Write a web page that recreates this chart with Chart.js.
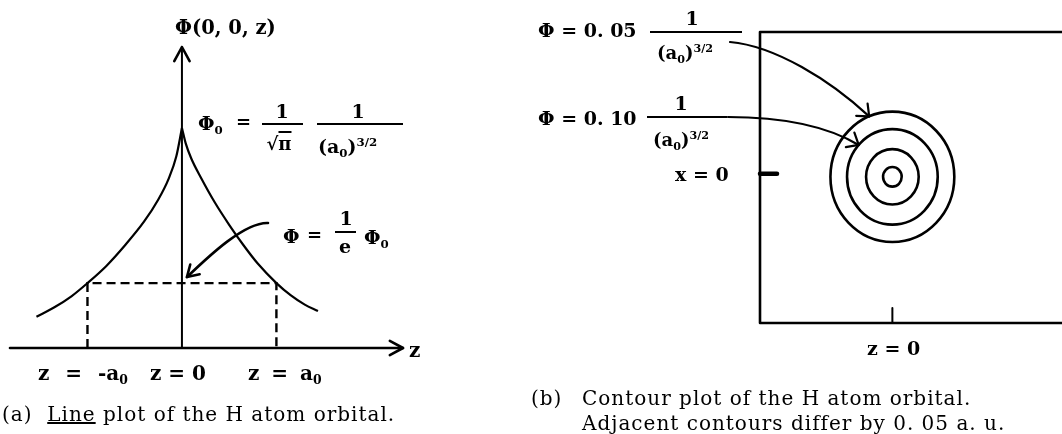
<!DOCTYPE html>
<html>
<head>
<meta charset="utf-8">
<script src="https://cdn.jsdelivr.net/npm/chart.js@4.4.1/dist/chart.umd.min.js"></script>
<style>
  body { margin: 0; background: #fff; color: #000; font-family: "DejaVu Serif", serif; }
  #page { position: relative; width: 1062px; height: 434px; overflow: hidden; }
  #lineWrap { position: absolute; left: 0; top: 0; width: 520px; height: 434px; }
  #contourWrap { position: absolute; left: 520px; top: 0; width: 542px; height: 434px; }
  .lab { position: absolute; line-height: 1; white-space: nowrap; transform: translateY(-50%); font-size: 18px; }
  .c { transform: translate(-50%, -50%); }
  .b { font-weight: bold; }
  .bar { position: absolute; height: 2px; background: #000; }
  .cap { position: absolute; line-height: 1; white-space: nowrap; transform: translateY(-50%);
         font-size: 20px; letter-spacing: 1px; }
  sub, sup { font-size: 0.62em; vertical-align: baseline; position: relative; }
  sub { top: 0.35em; }
  sup { top: -0.6em; }
</style>
</head>
<body>
<div id="page">
  <div id="lineWrap"><canvas id="lineChart"></canvas></div>
  <div id="contourWrap"><canvas id="contourChart"></canvas></div>

  <!-- (a) line plot labels -->
  <div class="lab b" style="left:175px;top:28px;font-size:19.5px">Φ(0, 0, z)</div>
  <div class="lab b" style="left:198px;top:123px;font-size:19px">Φ<sub>0</sub></div>
  <div class="lab b" style="left:236px;top:122px">=</div>
  <div class="lab b c" style="left:282px;top:111px;font-size:19px">1</div>
  <div class="bar" style="left:262px;top:123px;width:41px"></div>
  <div class="lab b c" style="left:279px;top:144px">√<span style="border-top:2px solid #000">π</span></div>
  <div class="lab b c" style="left:358px;top:111px;font-size:19px">1</div>
  <div class="bar" style="left:317px;top:123px;width:86px"></div>
  <div class="lab b" style="left:318px;top:146px;font-size:19px">(a<sub>0</sub>)<sup>3/2</sup></div>

  <div class="lab b" style="left:283px;top:236px;font-size:19px">Φ</div>
  <div class="lab b" style="left:307px;top:235px">=</div>
  <div class="lab b c" style="left:346px;top:218px;font-size:19px">1</div>
  <div class="bar" style="left:335px;top:231px;width:21px"></div>
  <div class="lab b c" style="left:345px;top:246px;font-size:19px">e</div>
  <div class="lab b" style="left:364px;top:237px;font-size:19px">Φ<sub>0</sub></div>

  <div class="lab b" style="left:38px;top:373px;font-size:20px;word-spacing:9px">z = -a<sub>0</sub></div>
  <div class="lab b" style="left:150px;top:373px;font-size:20px">z = 0</div>
  <div class="lab b" style="left:248px;top:373px;font-size:20px;word-spacing:5px">z = a<sub>0</sub></div>
  <div class="lab b" style="left:409px;top:350px;font-size:20px">z</div>

  <div class="cap" style="left:2px;top:414px">(a)&nbsp; <u>Line</u> plot of the H atom orbital.</div>

  <!-- (b) contour plot labels -->
  <div class="lab b" style="left:538px;top:30px;font-size:19px">Φ = 0. 05</div>
  <div class="lab b c" style="left:692px;top:18px;font-size:19px">1</div>
  <div class="bar" style="left:650px;top:31px;width:92px"></div>
  <div class="lab b" style="left:657px;top:53px">(a<sub>0</sub>)<sup>3/2</sup></div>

  <div class="lab b" style="left:538px;top:118px;font-size:19px">Φ = 0. 10</div>
  <div class="lab b c" style="left:681px;top:103px;font-size:19px">1</div>
  <div class="bar" style="left:647px;top:116px;width:80px"></div>
  <div class="lab b" style="left:653px;top:140px">(a<sub>0</sub>)<sup>3/2</sup></div>

  <div class="lab b" style="left:675px;top:174px;font-size:19px">x = 0</div>
  <div class="lab b" style="left:867px;top:348px;font-size:19px">z = 0</div>

  <div class="cap" style="left:531px;top:398px">(b)</div>
  <div class="cap" style="left:582px;top:398px">Contour plot of the H atom orbital.</div>
  <div class="cap" style="left:582px;top:423px">Adjacent contours differ by 0. 05 a. u.</div>
</div>

<script>
// Φ(0,0,z) along the z axis; z in units of a0, Φ in units of Φ0
const zLeft = [-1.54, -1.35, -1.17, -1.0, -0.8, -0.6, -0.4, -0.25, -0.14, -0.06, 0];
const phiLeft = [0.142, 0.185, 0.235, 0.295, 0.373, 0.468, 0.575, 0.675, 0.77, 0.87, 1.0];
const zRight = [0, 0.04, 0.10, 0.20, 0.35, 0.50, 0.65, 0.80, 1.0, 1.15, 1.30, 1.44];
const phiRight = [1.0, 0.93, 0.86, 0.775, 0.66, 0.56, 0.468, 0.385, 0.295, 0.24, 0.197, 0.168];

// level of Φ0/e, reached at z = ±a0
const phiAtA0 = 0.295;
const guideZ = [-1, -1, 1, 1];
const guidePhi = [0, phiAtA0, phiAtA0, 0];

// contour plot: levels (a.u.) and their radii (in a0) around the nucleus
const contourLevels = [0.05, 0.10, 0.15, 0.20];
const contourRadii = [1.53, 1.12, 0.65, 0.23];

function pts(xs, ys) {
  return xs.map((v, i) => ({ x: v, y: ys[i] }));
}

function arrowHead(ctx, tipX, tipY, fromX, fromY, len, spread) {
  const ang = Math.atan2(tipY - fromY, tipX - fromX);
  ctx.beginPath();
  ctx.moveTo(tipX - len * Math.cos(ang - spread), tipY - len * Math.sin(ang - spread));
  ctx.lineTo(tipX, tipY);
  ctx.lineTo(tipX - len * Math.cos(ang + spread), tipY - len * Math.sin(ang + spread));
  ctx.stroke();
}

// axes with arrows, plus the pointer from the Φ0/e label
const lineAxes = {
  id: 'lineAxes',
  afterDatasetsDraw(chart) {
    const { ctx, chartArea: a, scales: { x, y } } = chart;
    const x0 = x.getPixelForValue(0);
    const y0 = y.getPixelForValue(0);
    ctx.save();
    ctx.strokeStyle = '#000';
    ctx.lineCap = 'round';
    ctx.lineJoin = 'round';

    ctx.lineWidth = 2.6;
    ctx.beginPath();
    ctx.moveTo(a.left, y0);
    ctx.lineTo(a.right, y0);
    ctx.stroke();
    arrowHead(ctx, a.right, y0, a.left, y0, 15, 0.5);

    ctx.lineWidth = 2;
    ctx.beginPath();
    ctx.moveTo(x0, y0);
    ctx.lineTo(x0, a.top);
    ctx.stroke();
    ctx.lineWidth = 2.6;
    arrowHead(ctx, x0, a.top, x0, y0, 16, 0.5);

    // pointer to the Φ0/e crossing on the Φ axis
    const tx = x0 + 5, ty = y.getPixelForValue(phiAtA0) - 6;
    ctx.lineWidth = 2.6;
    ctx.beginPath();
    ctx.moveTo(268, 223);
    ctx.bezierCurveTo(245, 222, 210, 255, tx, ty);
    ctx.stroke();
    arrowHead(ctx, tx, ty, 210, 255, 13, 0.55);
    ctx.restore();
  }
};

new Chart(document.getElementById('lineChart'), {
  type: 'scatter',
  data: {
    datasets: [
      { data: pts(zLeft, phiLeft), showLine: true, borderColor: '#000', borderWidth: 2.2,
        pointRadius: 0, cubicInterpolationMode: 'monotone' },
      { data: pts(zRight, phiRight), showLine: true, borderColor: '#000', borderWidth: 2.2,
        pointRadius: 0, cubicInterpolationMode: 'monotone' },
      { data: pts(guideZ, guidePhi), showLine: true, borderColor: '#000', borderWidth: 2.4,
        borderDash: [9, 5], pointRadius: 0, tension: 0 }
    ]
  },
  options: {
    responsive: true,
    maintainAspectRatio: false,
    animation: false,
    devicePixelRatio: 1,
    events: [],
    layout: { padding: { left: 10, right: 117, top: 47, bottom: 86 } },
    scales: {
      x: { type: 'linear', min: -1.82, max: 2.34, display: false },
      y: { type: 'linear', min: 0, max: 1.368, display: false }
    },
    plugins: { legend: { display: false }, tooltip: { enabled: false } }
  },
  plugins: [lineAxes]
});

// frame, ticks, contour rings and the two label pointers
const contourDraw = {
  id: 'contourDraw',
  afterDatasetsDraw(chart) {
    const { ctx, chartArea: a, scales: { x, y } } = chart;
    const cx = x.getPixelForValue(0), cy = y.getPixelForValue(0);
    ctx.save();
    ctx.strokeStyle = '#000';
    ctx.lineCap = 'round';
    ctx.lineJoin = 'round';

    ctx.lineWidth = 2.6;
    ctx.beginPath();
    ctx.moveTo(a.right + 5, a.top);
    ctx.lineTo(a.left, a.top);
    ctx.lineTo(a.left, a.bottom);
    ctx.lineTo(a.right + 5, a.bottom);
    ctx.stroke();

    // x = 0 and z = 0 ticks
    ctx.lineWidth = 4.5;
    ctx.beginPath();
    ctx.moveTo(a.left, cy - 3);
    ctx.lineTo(a.left + 17, cy - 3);
    ctx.stroke();
    ctx.lineWidth = 2;
    ctx.beginPath();
    ctx.moveTo(cx, a.bottom);
    ctx.lineTo(cx, a.bottom - 15);
    ctx.stroke();

    ctx.lineWidth = 2.6;
    const rings = contourRadii.map(r => ({
      rx: x.getPixelForValue(r) - cx,
      ry: cy - y.getPixelForValue(r)
    }));
    rings.forEach(g => {
      ctx.beginPath();
      ctx.ellipse(cx, cy, g.rx, g.ry, 0, 0, Math.PI * 2);
      ctx.stroke();
    });

    // pointers from the Φ = 0.05 and Φ = 0.10 labels to their rings
    const onRing = (g, deg) => {
      const t = deg * Math.PI / 180;
      return [cx + g.rx * Math.cos(t), cy - g.ry * Math.sin(t)];
    };
    const [e1x, e1y] = onRing(rings[0], 112);
    ctx.lineWidth = 2.2;
    ctx.beginPath();
    ctx.moveTo(210, 42);
    ctx.bezierCurveTo(255, 46, 310, 80, e1x, e1y);
    ctx.stroke();
    arrowHead(ctx, e1x, e1y, 310, 80, 13, 0.7);

    const [e2x, e2y] = onRing(rings[1], 138);
    ctx.beginPath();
    ctx.moveTo(208, 117);
    ctx.bezierCurveTo(260, 117, 305, 125, e2x, e2y);
    ctx.stroke();
    arrowHead(ctx, e2x, e2y, 305, 125, 13, 0.7);
    ctx.restore();
  }
};

new Chart(document.getElementById('contourChart'), {
  type: 'scatter',
  data: {
    datasets: [
      { data: [{ x: 0, y: 0 }], pointRadius: 0 }
    ]
  },
  options: {
    responsive: true,
    maintainAspectRatio: false,
    animation: false,
    devicePixelRatio: 1,
    events: [],
    layout: { padding: { left: 240, right: 0, top: 32, bottom: 111 } },
    scales: {
      x: { type: 'linear', min: -3.27, max: 4.19, display: false },
      y: { type: 'linear', min: -3.43, max: 3.4, display: false }
    },
    plugins: { legend: { display: false }, tooltip: { enabled: false } }
  },
  plugins: [contourDraw]
});
</script>
</body>
</html>
